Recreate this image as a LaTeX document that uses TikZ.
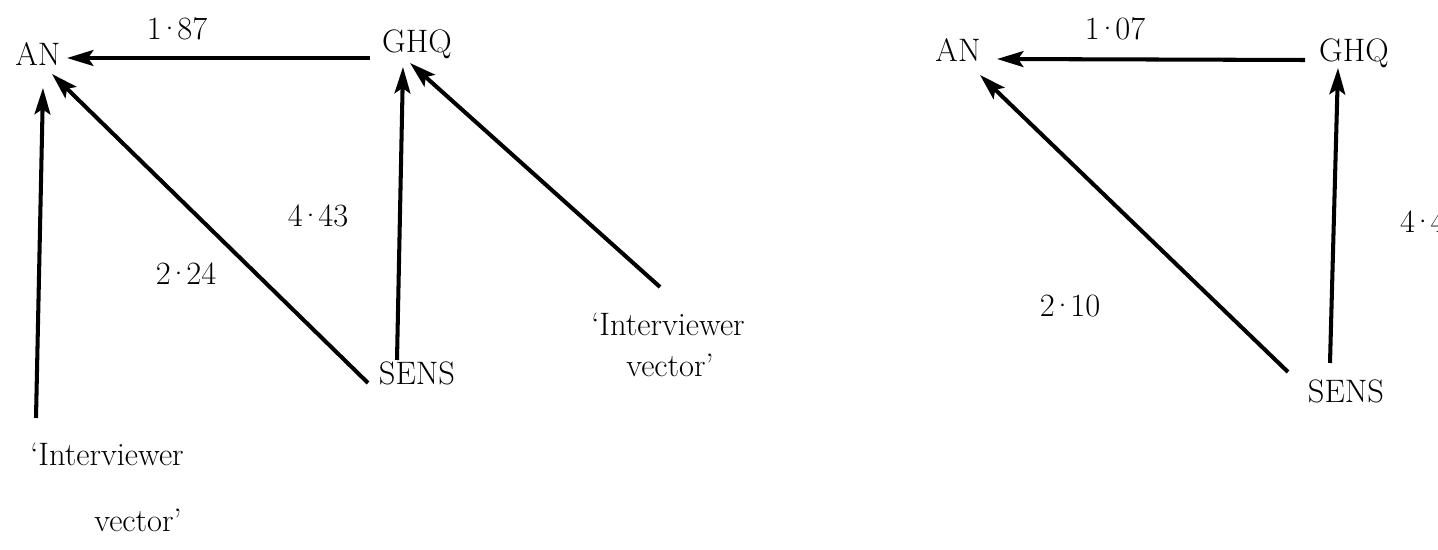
\documentclass[tikz,border=0pt]{standalone}
\usepackage{tikz}
\usetikzlibrary{arrows.meta, calc, positioning}
\tikzset{>={Stealth[length=15pt,width=9pt,inset=3pt]}}
\tikzset{lbl/.style={anchor=base, inner sep=0pt, font=\fontsize{18.5}{22}\selectfont}}
\newcommand{\mdot}{\kern-0.12em\textperiodcentered\kern-0.12em}

\begin{document}
\begin{tikzpicture}[x=0.02cm, y=-0.02cm, line width=2.3pt]
			\useasboundingbox (0,0) rectangle (1438,550);

			% left diagram
			\node[lbl] (AN1) at (38,66) {AN};
			\node[lbl] (GHQ1) at (417,53) {GHQ};
			\node[lbl] (SENS1) at (417,385) {SENS};
			\node[lbl] (IVa1) at (107,466) {`Interviewer};
			\node[lbl] (IVb1) at (138,532) {vector'};
			\node[lbl] (IVa2) at (668,336) {`Interviewer};
			\node[lbl] (IVb2) at (670,377) {vector'};

			\node[lbl] (w187) at (177,40) {1\mdot87};
			\node[lbl] (w443) at (318,227) {4\mdot43};
			\node[lbl] (w224) at (186,285) {2\mdot24};

			\draw [->] ($(GHQ1.base)+(-47,5)$)--($(AN1.base)+(29,-8)$);
			\draw [->] ($(IVa1.base)+(-71,-48)$)--($(AN1.base)+(5,22)$);
			\draw [->] ($(SENS1.base)+(-49,-2)$)--($(AN1.base)+(14,8)$);
			\draw [->] ($(SENS1.base)+(-20,-25)$)--($(GHQ1.base)+(-14,14)$);
			\draw [->] ($(IVa2.base)+(-8,-49)$)--($(GHQ1.base)+(-7,10)$);

			% right diagram
			\node[lbl] (AN2) at (958,62) {AN};
			\node[lbl] (GHQ2) at (1354,62) {GHQ};
			\node[lbl] (SENS2) at (1346,403) {SENS};

			\node[lbl] (w107) at (1115,40) {1\mdot07};
			\node[lbl] (w210) at (1070,317) {2\mdot10};
			\node[lbl, anchor=base west] (w443b) at (1398,233) {4\mdot43};

			\draw [->] ($(GHQ2.base)+(-49,-2)$)--($(AN2.base)+(39,-3)$);
			\draw [->] ($(SENS2.base)+(-58,-31)$)--($(AN2.base)+(22,13)$);
			\draw [->] ($(SENS2.base)+(-16,-40)$)--($(GHQ2.base)+(-16,6)$);

\end{tikzpicture}
\end{document}
